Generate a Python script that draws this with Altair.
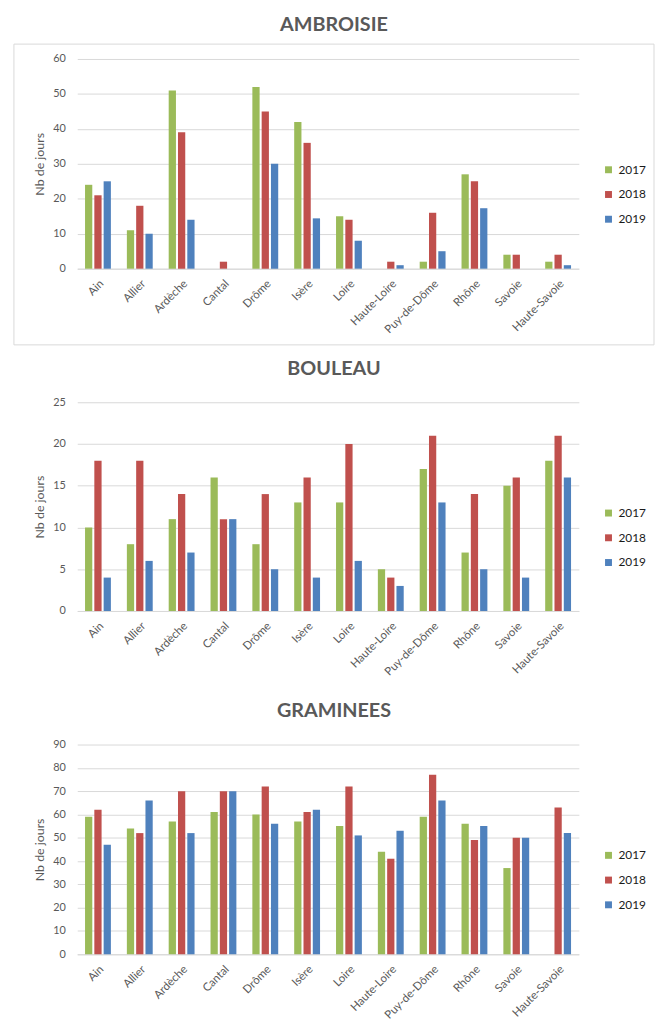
import altair as alt
import pandas as pd

departements = ["Ain", "Allier", "Ardèche", "Cantal", "Drôme", "Isère", "Loire",
                "Haute-Loire", "Puy-de-Dôme", "Rhône", "Savoie", "Haute-Savoie"]
annees = ["2017", "2018", "2019"]
titres = ["AMBROISIE", "BOULEAU", "GRAMINEES"]

ambroisie_2017 = [24, 11, 51, 0, 52, 42, 15, 0, 2, 27, 4, 2]
ambroisie_2018 = [21, 18, 39, 2, 45, 36, 14, 2, 16, 25, 4, 4]
ambroisie_2019 = [25, 10, 14, 0, 30, 14.4, 8, 1, 5, 17.3, 0, 1]

bouleau_2017 = [10, 8, 11, 16, 8, 13, 13, 5, 17, 7, 15, 18]
bouleau_2018 = [18, 18, 14, 11, 14, 16, 20, 4, 21, 14, 16, 21]
bouleau_2019 = [4, 6, 7, 11, 5, 4, 6, 3, 13, 5, 4, 16]

graminees_2017 = [59, 54, 57, 61, 60, 57, 55, 44, 59, 56, 37, None]
graminees_2018 = [62, 52, 70, 70, 72, 61, 72, 41, 77, 49, 50, 63]
graminees_2019 = [47, 66, 52, 70, 56, 62, 51, 53, 66, 55, 50, 52]

couleurs = ["#9BBB59", "#C0504D", "#4F81BD"]

FONT = "Lato"
GRIS = "#595959"
LIGNE = "#D9D9D9"
W = 507


def panel(titre, series, ymax, ystep, height, border=False):
    rows = []
    for annee, vals in zip(annees, series):
        for d, v in zip(departements, vals):
            rows.append({"dep": d, "annee": annee, "jours": v})
    df = pd.DataFrame(rows)
    bars = alt.Chart(df).mark_bar().encode(
        x=alt.X("dep:N", sort=departements, title=None,
                scale=alt.Scale(paddingInner=0.382, paddingOuter=0.186),
                axis=alt.Axis(labelAngle=-45, ticks=False, domainColor=LIGNE,
                              domainWidth=1, labelColor=GRIS, labelFont=FONT,
                              labelFontSize=11.5, labelPadding=9, labelAlign="right",
                              labelBaseline="top")),
        xOffset=alt.XOffset("annee:N", sort=annees,
                            scale=alt.Scale(paddingInner=0.22, paddingOuter=0)),
        y=alt.Y("jours:Q", title="Nb de jours",
                scale=alt.Scale(domain=[0, ymax], nice=False),
                axis=alt.Axis(values=list(range(0, ymax + 1, ystep)), ticks=False,
                              domain=False, gridColor=LIGNE, gridWidth=1,
                              labelColor=GRIS, labelFont=FONT, labelFontSize=11,
                              labelPadding=12, titleFont=FONT, titleFontSize=12.5,
                              titleFontWeight="normal", titleColor=GRIS,
                              titlePadding=6)),
        color=alt.Color("annee:N",
                        scale=alt.Scale(domain=annees, range=couleurs),
                        legend=alt.Legend(title=None, orient="none", legendX=531,
                                          legendY=106, symbolType="square",
                                          symbolSize=49, symbolStrokeWidth=0,
                                          labelFont=FONT, labelFontSize=12,
                                          labelColor="#1a1a1a", rowPadding=13,
                                          labelOffset=4, padding=0)),
    )
    titre_txt = alt.Chart(alt.Data(values=[{"t": titre}])).mark_text(
        font=FONT, fontSize=20, fontWeight="bold", color=GRIS,
        align="center", baseline="middle"
    ).encode(text="t:N", x=alt.value(259.5), y=alt.value(-34))
    layers = [bars, titre_txt]
    if border:
        cadre = alt.Chart(alt.Data(values=[{}])).mark_rect(
            filled=False, stroke=LIGNE, strokeWidth=1
        ).encode(x=alt.value(-64), x2=alt.value(583),
                 y=alt.value(-15), y2=alt.value(289))
        garde = alt.Chart(alt.Data(values=[{}])).mark_rule(
            strokeOpacity=0, strokeWidth=0.01
        ).encode(x=alt.value(0), x2=alt.value(10), y=alt.value(-46))
        layers = [cadre, garde] + layers
    return alt.layer(*layers).properties(width=W, height=height)


c1 = panel(titres[0], [ambroisie_2017, ambroisie_2018, ambroisie_2019],
           60, 10, 212, border=True)
c2 = panel(titres[1], [bouleau_2017, bouleau_2018, bouleau_2019],
           25, 5, 211)
c3 = panel(titres[2], [graminees_2017, graminees_2018, graminees_2019],
           90, 10, 212)

chart = alt.vconcat(c1, c2, c3, spacing=135, bounds="flush").resolve_scale(
    color="independent", x="independent", y="independent", xOffset="independent"
).resolve_legend(color="independent").properties(
    padding={"left": 5, "top": 0, "right": 0, "bottom": 0},
    background="white",
).configure_view(stroke=None)

chart.save("out.html", embed_options={"renderer": "svg", "actions": False})
